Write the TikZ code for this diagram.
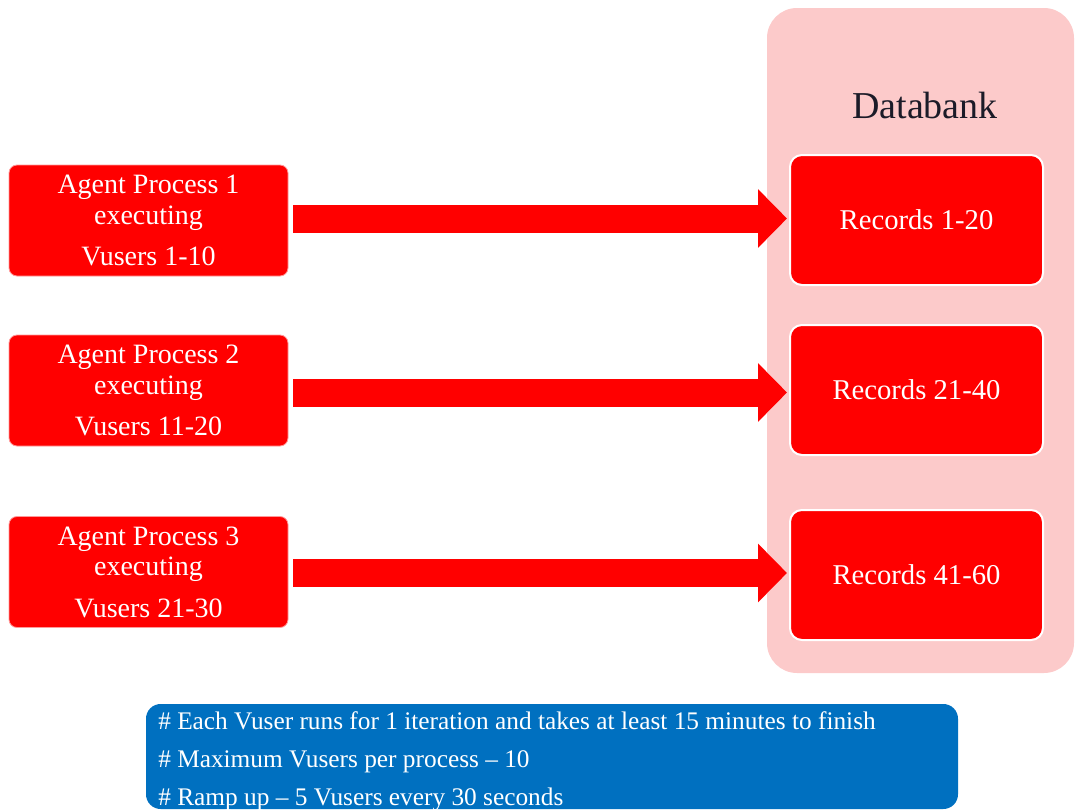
\documentclass[tikz,border=0pt]{standalone}
\usepackage{fontspec}
\setmainfont{Liberation Serif}
\usetikzlibrary{arrows.meta,calc}
\definecolor{boxred}{HTML}{FF0000}
\definecolor{panelpink}{HTML}{FCCACA}
\definecolor{noteblue}{HTML}{0070C0}
\definecolor{dbtext}{HTML}{1B1B28}
\tikzset{
  agentbox/.style={rectangle, rounded corners=6pt, fill=boxred, draw=boxred!40, line width=0.6pt,
    minimum width=209.25pt, minimum height=83.25pt, align=center, text=white,
    font=\fontsize{21pt}{23pt}\selectfont, inner sep=0pt},
  recbox/.style={rectangle, rounded corners=9pt, fill=boxred, draw=white, line width=1.5pt,
    minimum width=189.75pt, minimum height=97.5pt, align=center, text=white,
    font=\fontsize{21.5pt}{24pt}\selectfont, inner sep=0pt},
  panel/.style={rectangle, rounded corners=22.5pt, fill=panelpink, draw=none,
    minimum width=230.25pt, minimum height=498.75pt, inner sep=0pt},
  notebox/.style={rectangle, rounded corners=11pt, fill=noteblue, draw=none,
    minimum width=609pt, minimum height=78.75pt, inner sep=0pt},
  noteline/.style={anchor=base west, text=white, inner sep=0pt,
    font=\fontsize{19pt}{22pt}\selectfont},
  fatarrow/.style={draw=boxred, line width=21pt,
    -{Triangle[length=21.75pt,width=42.75pt]}, shorten <=3.75pt, shorten >=1.5pt}
}
\begin{document}
\begin{tikzpicture}[x=0.75pt,y=-0.75pt]
\useasboundingbox (0,0) rectangle (1076,810);
% databank panel
\node[panel] (db) at (920.5,340.5) {};
\node[text=dbtext, font=\fontsize{28.5pt}{32pt}\selectfont] (dblabel) at (925,106) {Databank};
% record boxes
\node[recbox] (r1) at (916.5,220) {Records 1-20};
\node[recbox] (r2) at (916.5,390) {Records 21-40};
\node[recbox] (r3) at (916.5,575) {Records 41-60};
% agent boxes
\node[agentbox] (a1) at (148.5,220.5) {Agent Process 1\\executing\\[8pt]Vusers 1-10};
\node[agentbox] (a2) at (148.5,390.5) {Agent Process 2\\executing\\[8pt]Vusers 11-20};
\node[agentbox] (a3) at (148.5,572) {Agent Process 3\\executing\\[8pt]Vusers 21-30};
% arrows
\draw[fatarrow] ($(a1.east)+(0,-2)$) -- ($(a1.east -| r1.west)+(0,-2)$);
\draw[fatarrow] ($(a2.east)+(0,2)$) -- ($(a2.east -| r2.west)+(0,2)$);
\draw[fatarrow] ($(a3.east)+(0,1)$) -- ($(a3.east -| r3.west)+(0,1)$);
% note box
\node[notebox] (note) at (552,756.5) {};
\node[noteline] (n1) at (158,729) {\# Each Vuser runs for 1 iteration and takes at least 15 minutes to finish};
\node[noteline] (n2) at (158,767) {\# Maximum Vusers per process -- 10};
\node[noteline] (n3) at (158,805) {\# Ramp up -- 5 Vusers every 30 seconds};
\end{tikzpicture}
\end{document}
